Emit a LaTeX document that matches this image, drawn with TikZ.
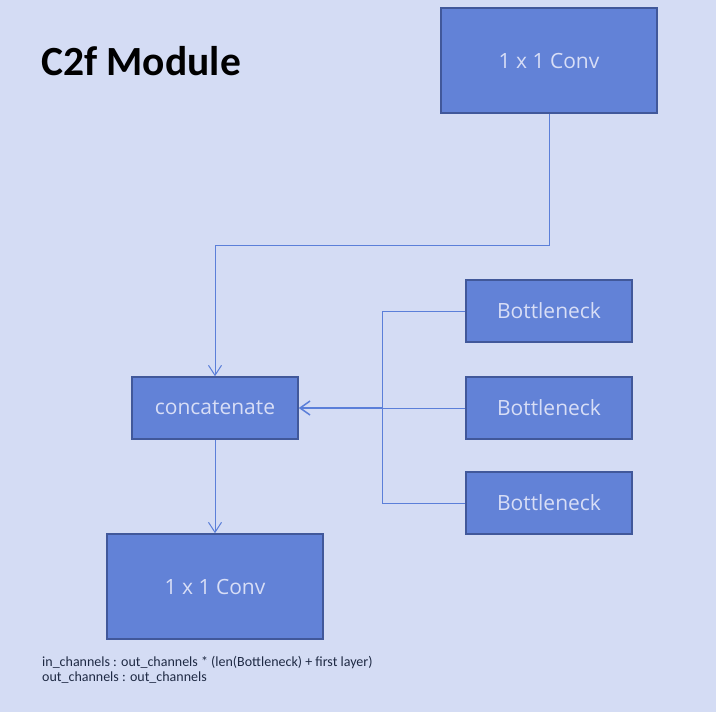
\documentclass[tikz,border=0pt]{standalone}
\usepackage{fontspec}
\setmainfont{Carlito}
\newfontfamily\boxfont{Open Sans}
\usetikzlibrary{arrows.meta}
\definecolor{bg}{HTML}{D4DCF4}
\definecolor{boxfill}{HTML}{6282D7}
\definecolor{boxedge}{HTML}{41589A}
\definecolor{boxtext}{HTML}{D8DEF6}
\definecolor{wire}{HTML}{5B7FD9}
\definecolor{note}{HTML}{1F2A44}
\tikzset{
  x=1pt, y=-1pt,
  blk/.style={draw=boxedge, line width=1.5pt, fill=boxfill, text=boxtext,
    font=\boxfont\fontsize{21}{25}\selectfont, inner sep=0pt, anchor=center},
  wirel/.style={draw=wire, line width=1pt},
  arr/.style={wirel, -{Straight Barb[length=10pt, width=13pt, line width=1pt]}},
}
\begin{document}
\begin{tikzpicture}
\fill[bg] (0,0) rectangle (716,712);
\useasboundingbox (0,0) rectangle (716,712);
\node[blk, minimum width=216pt, minimum height=105pt] (conv1) at (549,60.5) {1 x 1 Conv};
\node[blk, minimum width=166pt, minimum height=62pt] (b1) at (549,311) {Bottleneck};
\node[blk, minimum width=166pt, minimum height=62pt] (b2) at (549,408) {Bottleneck};
\node[blk, minimum width=166pt, minimum height=62pt] (b3) at (549,503) {Bottleneck};
\node[blk, minimum width=166pt, minimum height=62pt] (cat) at (215,408) {concatenate};
\node[blk, minimum width=216pt, minimum height=105pt] (conv2) at (215,586.5) {1 x 1 Conv};
\node[anchor=base west, font=\bfseries\fontsize{41.5}{48}\selectfont, inner sep=0pt] (title) at (41,75) {C2f Module};
\node[anchor=north west, align=left, text=note, font=\fontsize{14}{15.5}\selectfont, inner sep=0pt] (notes) at (42,656)
  {in\_channels : out\_channels * (len(Bottleneck) + first layer)\\out\_channels : out\_channels};
\coordinate (j) at (382,408);
\draw[arr] (conv1.south) |- (215,245) -- (cat.north);
\draw[wirel] (b1.west) -| (j);
\draw[wirel] (b3.west) -| (j);
\draw[wirel] (b2.west) -- (j);
\draw[wirel, line width=2pt, -{Straight Barb[length=10pt, width=14pt, line width=1.5pt]}] (j) -- (cat.east);
\draw[arr] (cat.south) -- (conv2.north);
\end{tikzpicture}
\end{document}
